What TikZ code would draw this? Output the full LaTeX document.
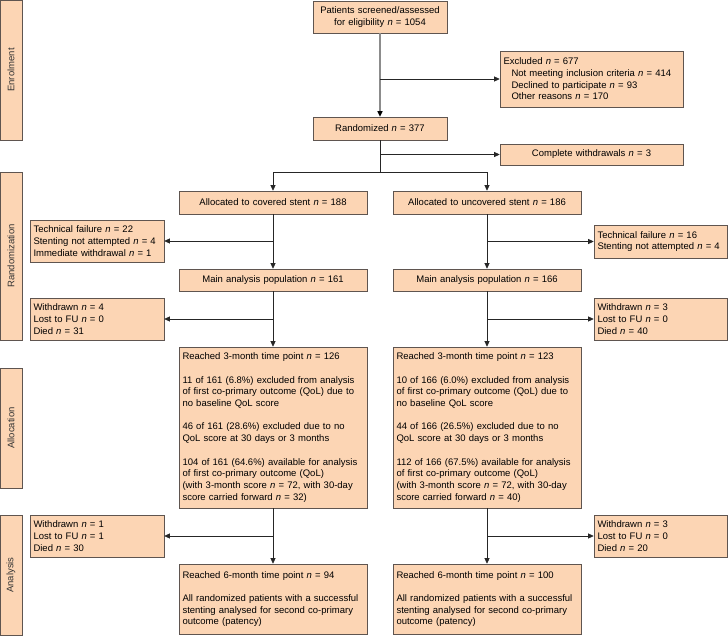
\documentclass[tikz,border=0pt]{standalone}
\usepackage{fontspec}
\setmainfont{Liberation Sans}
\usetikzlibrary{arrows.meta, positioning}
\definecolor{peach}{RGB}{252,213,180}
\definecolor{boxline}{RGB}{95,85,80}
\newcommand{\nit}{\textit{n}}

\begin{document}
\begin{tikzpicture}[
    x=1pt, y=-1pt,
    box/.style={rectangle, draw=boxline, fill=peach, line width=0.6pt, inner xsep=3.5pt, inner ysep=2pt, font=\fontsize{9.5}{11.7}\selectfont, align=center, execute at begin node={\hyphenpenalty=10000}},
    sidebox/.style={box, align=left, text width=127pt, minimum height=42pt},
    bigbox/.style={box, align=left, text width=181pt},
    phase/.style={box, rotate=90, minimum width=#1, minimum height=22pt, inner sep=0pt, text=black!80},
    flow/.style={-{Triangle[length=5.5pt,width=5pt]}, line width=0.7pt, black!85},
]
    \useasboundingbox (0,0) rectangle (728,636);

    % Phase labels
    \node[phase=140pt] (enrol) at (11,70) {Enrolment};
    \node[phase=168pt] (randph) at (11,256) {Randomization};
    \node[phase=120pt] (allocph) at (11,428) {Allocation};
    \node[phase=120pt] (analph) at (11,575) {Analysis};

    % Enrolment
    \node[box, text width=127pt, minimum height=32pt] (screen) at (380,17) {Patients screened/assessed\\for eligibility \nit{} = 1054};
    \node[box, align=left, text width=176pt, minimum height=56pt] (excl) at (591.5,79) {Excluded \nit{} = 677\\\hspace*{8pt}Not meeting inclusion criteria \nit{} = 414\\\hspace*{8pt}Declined to participate \nit{} = 93\\\hspace*{8pt}Other reasons \nit{} = 170};
    \node[box, text width=127pt, minimum height=23pt] (rand) at (380,128.5) {Randomized \nit{} = 377};
    \node[box, text width=176pt, minimum height=21pt] (cwd) at (591.5,154.5) {Complete withdrawals \nit{} = 3};

    % Randomization
    \coordinate (split) at (380,172);
    \node[box, text width=181pt, minimum height=23pt] (cov) at (273,202.5) {Allocated to covered stent \nit{} = 188};
    \node[box, text width=181pt, minimum height=23pt] (unc) at (487,202.5) {Allocated to uncovered stent \nit{} = 186};
    \node[sidebox] (techL) at (97,241) {Technical failure \nit{} = 22\\Stenting not attempted \nit{} = 4\\Immediate withdrawal \nit{} = 1};
    \node[sidebox, text width=126pt, minimum height=33pt] (techR) at (660.5,241.5) {Technical failure \nit{} = 16\\Stenting not attempted \nit{} = 4};
    \node[box, text width=181pt, minimum height=22pt] (mainL) at (273,280) {Main analysis population \nit{} = 161};
    \node[box, text width=181pt, minimum height=22pt] (mainR) at (487,280) {Main analysis population \nit{} = 166};
    \node[sidebox] (wdL1) at (97,319) {Withdrawn \nit{} = 4\\Lost to FU \nit{} = 0\\Died \nit{} = 31};
    \node[sidebox, text width=126pt] (wdR1) at (660.5,319) {Withdrawn \nit{} = 3\\Lost to FU \nit{} = 0\\Died \nit{} = 40};

    % Allocation
    \node[bigbox, minimum height=161pt] (qolL) at (273,427.5) {Reached 3-month time point \nit{} = 126\\[11.7pt]11 of 161 (6.8\%) excluded from analysis\\of first co-primary outcome (QoL) due to\\no baseline QoL score\\[11.7pt]46 of 161 (28.6\%) excluded due to no\\QoL score at 30 days or 3 months\\[11.7pt]104 of 161 (64.6\%) available for analysis\\of first co-primary outcome (QoL)\\(with 3-month score \nit{} = 72, with 30-day\\score carried forward \nit{} = 32)};
    \node[bigbox, minimum height=161pt] (qolR) at (487,427.5) {Reached 3-month time point \nit{} = 123\\[11.7pt]10 of 166 (6.0\%) excluded from analysis\\of first co-primary outcome (QoL) due to\\no baseline QoL score\\[11.7pt]44 of 166 (26.5\%) excluded due to no\\QoL score at 30 days or 3 months\\[11.7pt]112 of 166 (67.5\%) available for analysis\\of first co-primary outcome (QoL)\\(with 3-month score \nit{} = 72, with 30-day\\score carried forward \nit{} = 40)};

    % Analysis
    \node[sidebox] (wdL2) at (97,536) {Withdrawn \nit{} = 1\\Lost to FU \nit{} = 1\\Died \nit{} = 30};
    \node[sidebox, text width=126pt] (wdR2) at (660.5,536) {Withdrawn \nit{} = 3\\Lost to FU \nit{} = 0\\Died \nit{} = 20};
    \node[bigbox, minimum height=70pt] (patL) at (273,599) {Reached 6-month time point \nit{} = 94\\[11.7pt]All randomized patients with a successful\\stenting analysed for second co-primary\\outcome (patency)};
    \node[bigbox, minimum height=70pt] (patR) at (487,599) {Reached 6-month time point \nit{} = 100\\[11.7pt]All randomized patients with a successful\\stenting analysed for second co-primary\\outcome (patency)};

    % Arrows
    \draw[-{Triangle[length=5.5pt,width=5pt,color=black]}, draw=black!45, line width=1.2pt] (screen) -- (rand);
    \draw[flow] (screen.south |- excl.west) -- (excl.west);
    \draw[flow] (rand.south |- cwd.west) -- (cwd.west);
    \draw[line width=0.7pt, black!85] (rand) -- (split);
    \draw[flow] (split) -| (cov);
    \draw[flow] (split) -| (unc);

    \draw[flow] (cov) -- (mainL);
    \draw[flow] (cov.south |- techL.east) -- (techL.east);
    \draw[flow] (unc) -- (mainR);
    \draw[flow] (unc.south |- techR.west) -- (techR.west);

    \draw[flow] (mainL) -- (qolL);
    \draw[flow] (mainL.south |- wdL1.east) -- (wdL1.east);
    \draw[flow] (mainR) -- (qolR);
    \draw[flow] (mainR.south |- wdR1.west) -- (wdR1.west);

    \draw[flow] (qolL) -- (patL);
    \draw[flow] (qolL.south |- wdL2.east) -- (wdL2.east);
    \draw[flow] (qolR) -- (patR);
    \draw[flow] (qolR.south |- wdR2.west) -- (wdR2.west);

\end{tikzpicture}
\end{document}
